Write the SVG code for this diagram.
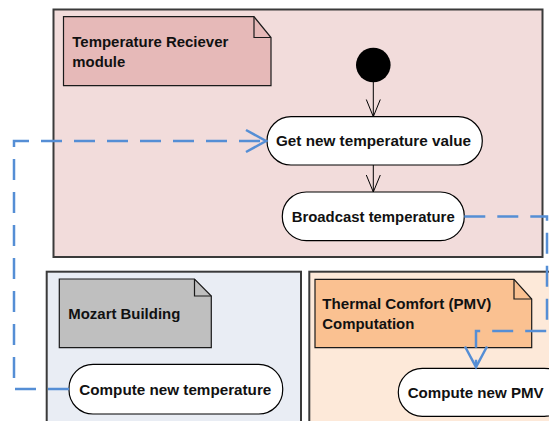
<svg xmlns="http://www.w3.org/2000/svg" width="549" height="421" viewBox="0 0 549 421">
<defs>
<style>
.panel{stroke:#3a3a3a;stroke-width:2}
.note{stroke:#1a1a1a;stroke-width:1.2}
.pill{fill:#ffffff;stroke:#000;stroke-width:1.2}
.t{font-family:"Liberation Sans",Arial,sans-serif;font-weight:bold;font-size:15px;fill:#111}
.flow{fill:none;stroke:#000;stroke-width:1}
.dash{fill:none;stroke:#558ed5;stroke-width:2.5;stroke-dasharray:21 12}
.ahead{fill:none;stroke:#558ed5;stroke-width:2.5}
</style>
</defs>
<rect width="549" height="421" fill="#ffffff"/>
<g id="panel-receiver">
<rect class="panel" x="53.5" y="9.5" width="489" height="247.5" fill="#f2dcdb"/>
</g>
<g id="panel-mozart">
<rect class="panel" x="46.7" y="271.7" width="254.3" height="160" fill="#e9edf4"/>
</g>
<g id="panel-thermal">
<rect class="panel" x="309.3" y="271.7" width="260" height="160" fill="#fde9d9"/>
</g>
<g id="note-receiver">
<path class="note" d="M63.5 16.7H254L271 37.5V85.7H63.5Z" fill="#e6b9b8"/>
<path class="note" d="M254 16.7V37.5H271" fill="none"/>
<text class="t" x="72.3" y="47" textLength="156" lengthAdjust="spacingAndGlyphs">Temperature Reciever</text>
<text class="t" x="72.3" y="67" textLength="53" lengthAdjust="spacingAndGlyphs">module</text>
</g>
<g id="note-mozart">
<path class="note" d="M59.3 279H194.5L211.3 296V347.7H59.3Z" fill="#bfbfbf"/>
<path class="note" d="M194.5 279V296H211.3" fill="none"/>
<text class="t" x="68.3" y="319.3" textLength="112" lengthAdjust="spacingAndGlyphs">Mozart Building</text>
</g>
<g id="note-thermal">
<path class="note" d="M315 279.3H514L531.7 299V347.7H315Z" fill="#fac191"/>
<path class="note" d="M514 279.3V299H531.7" fill="none"/>
<text class="t" x="322.3" y="309" textLength="169" lengthAdjust="spacingAndGlyphs">Thermal Comfort (PMV)</text>
<text class="t" x="322.3" y="329" textLength="92" lengthAdjust="spacingAndGlyphs">Computation</text>
</g>
<g id="start">
<circle cx="373.3" cy="65" r="17.3" fill="#000"/>
</g>
<g id="get-new-temperature">
<rect class="pill" x="267" y="116.7" width="215.3" height="48.3" rx="24" ry="24"/>
<text class="t" x="276" y="146" textLength="195" lengthAdjust="spacingAndGlyphs">Get new temperature value</text>
</g>
<g id="broadcast-temperature">
<rect class="pill" x="282.3" y="192" width="182" height="48.7" rx="24" ry="24"/>
<text class="t" x="291.7" y="221.7" textLength="163" lengthAdjust="spacingAndGlyphs">Broadcast temperature</text>
</g>
<g id="compute-new-temperature">
<rect class="pill" x="69" y="364.3" width="213.7" height="49.7" rx="24" ry="24"/>
<text class="t" x="79.3" y="395" textLength="192" lengthAdjust="spacingAndGlyphs">Compute new temperature</text>
</g>
<g id="compute-new-pmv">
<rect class="pill" x="398.3" y="368.3" width="170" height="48" rx="24" ry="24"/>
<text class="t" x="407.7" y="398.3" textLength="136" lengthAdjust="spacingAndGlyphs">Compute new PMV</text>
</g>
<g id="connectors">
<path class="flow" d="M373.3 82V116.7M366.3 99.5L373.3 116.7L380.3 99.5"/>
<path class="flow" d="M373.3 165V192M366.3 175L373.3 192L380.3 175"/>
<path class="dash" d="M69 389H14V141H264"/>
<path class="ahead" d="M246 130L266 141L246 152"/>
<path class="dash" d="M464.3 216.5H547V331H476V366"/>
<path class="ahead" d="M465 346.5L476 367L487 346.5"/>
</g>
</svg>
